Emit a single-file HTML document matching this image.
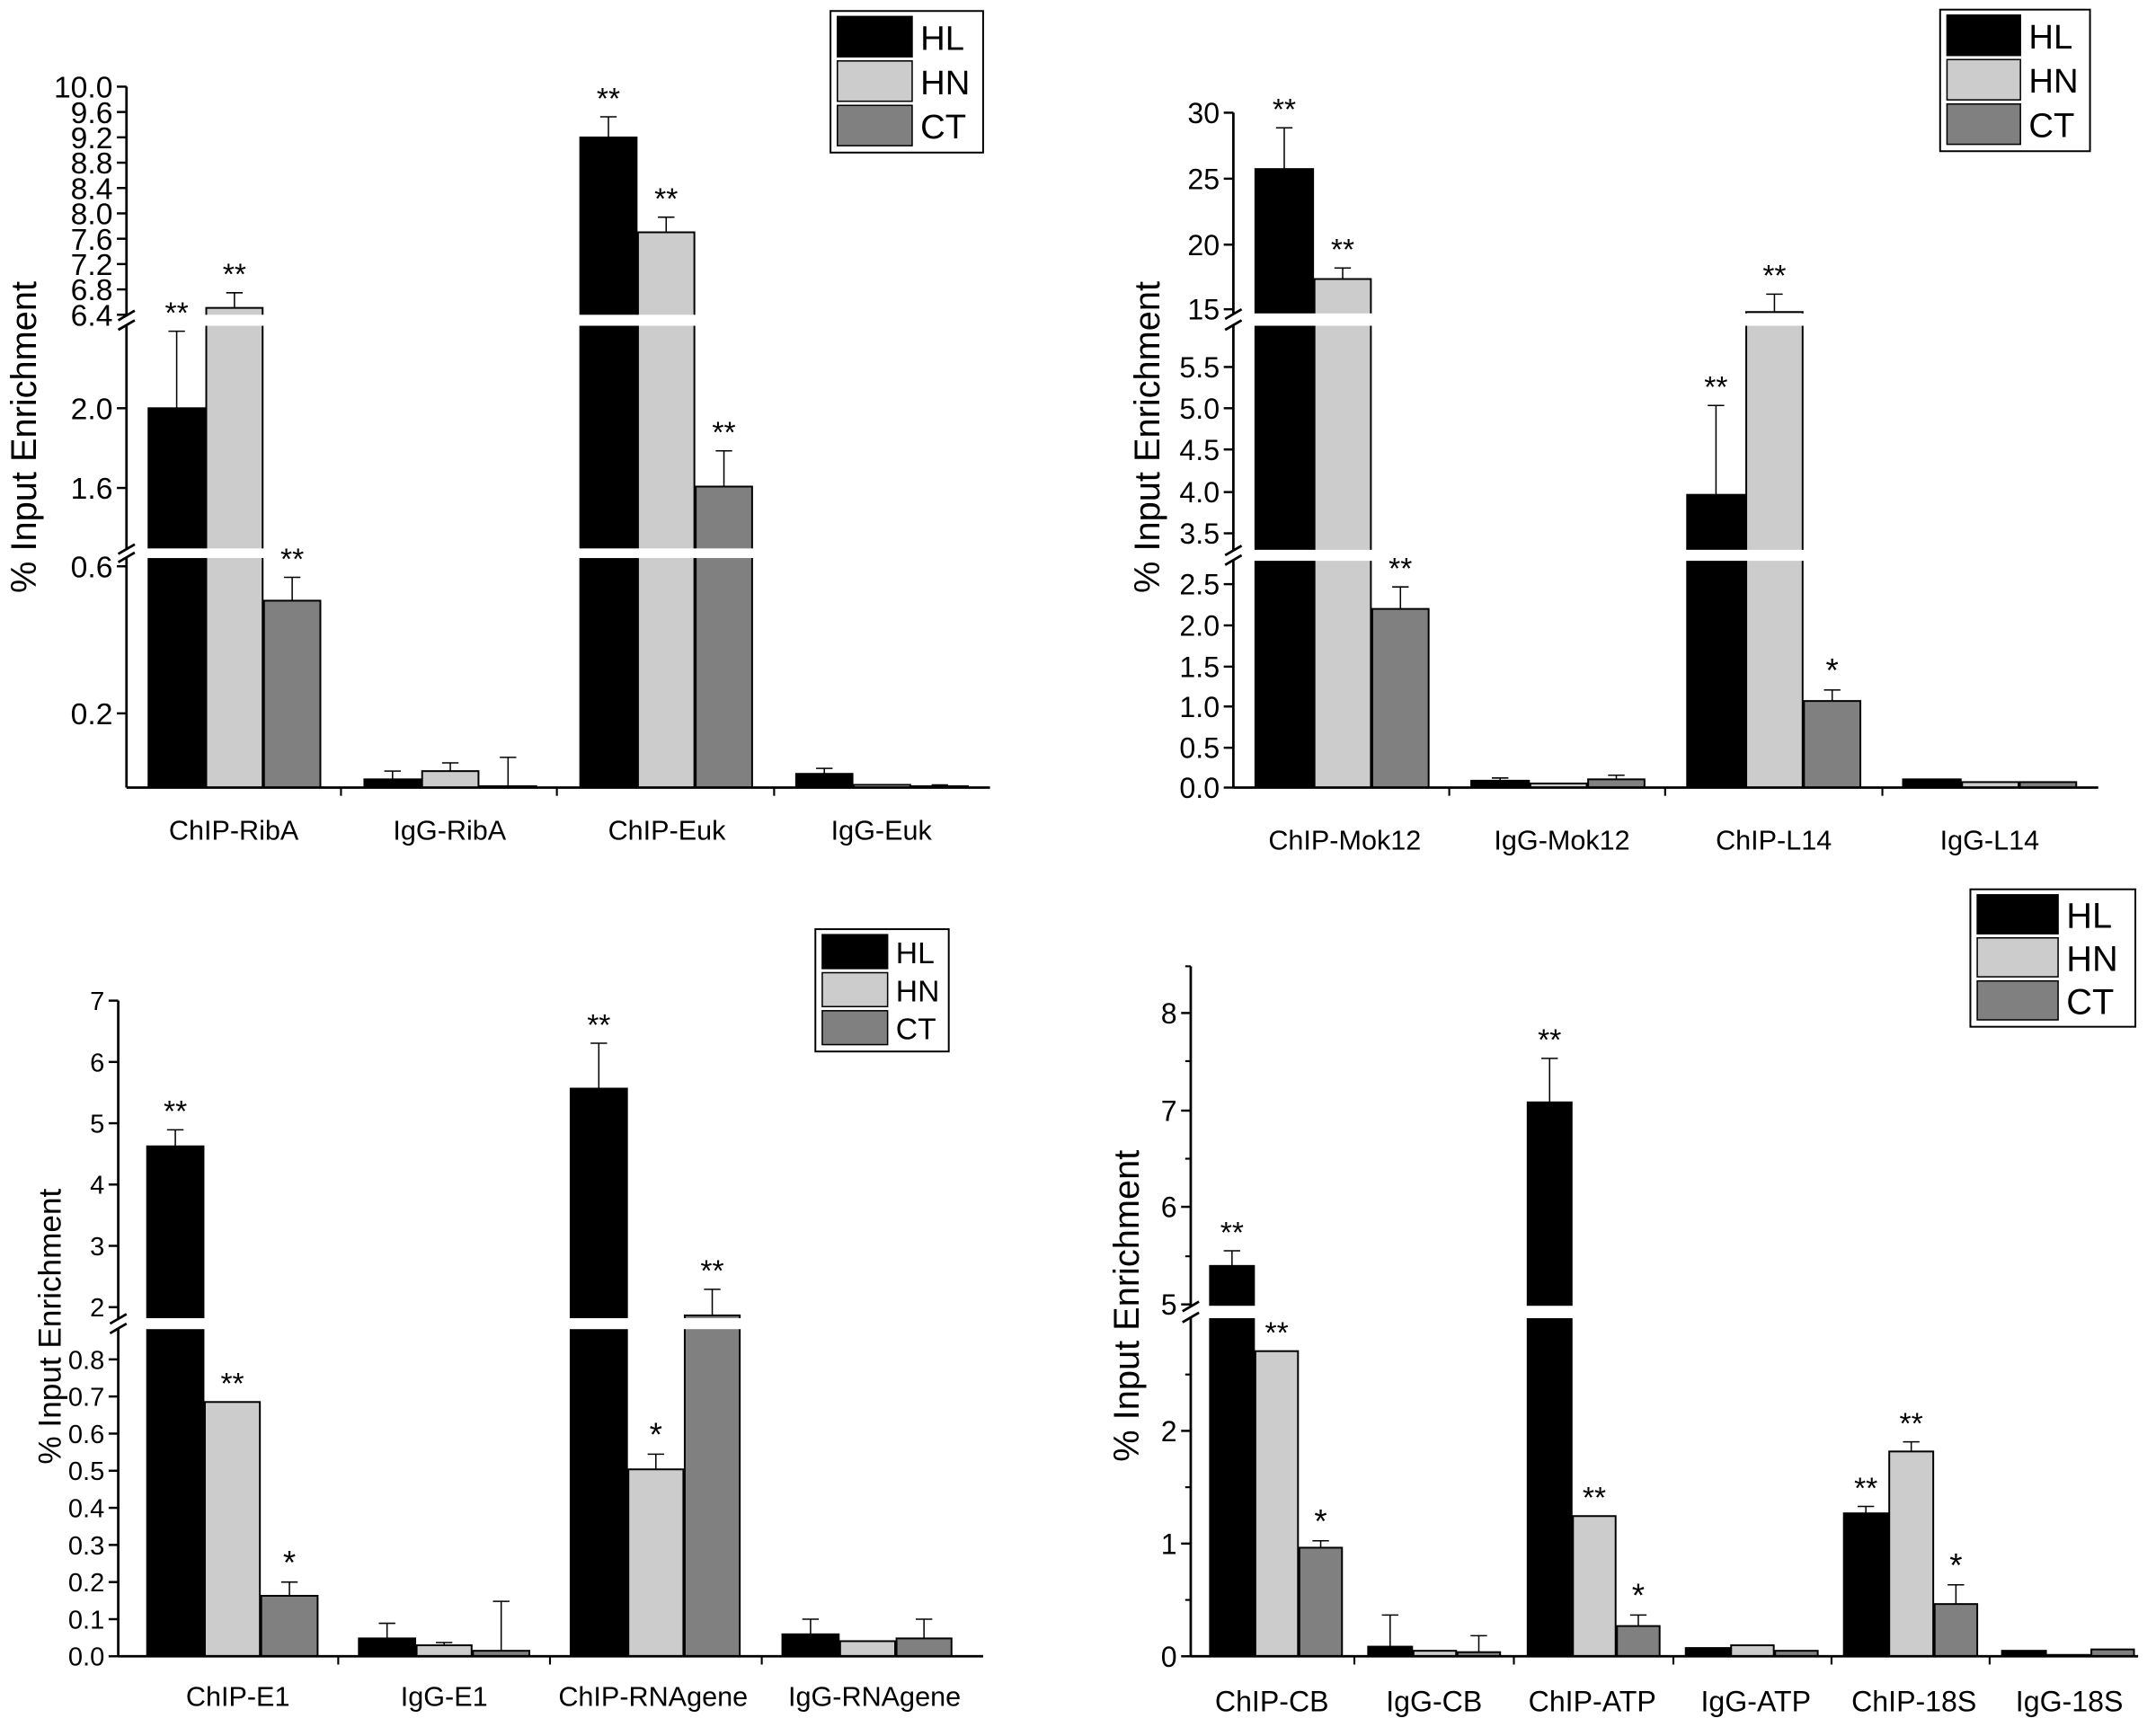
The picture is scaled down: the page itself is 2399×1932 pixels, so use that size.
<!DOCTYPE html>
<html><head><meta charset="utf-8"><style>
html,body{margin:0;padding:0;background:#fff;}
svg{display:block;}
text{font-family:"Liberation Sans",Arial,sans-serif;fill:#000;}
</style></head><body>
<svg id="s" width="2399" height="1932" viewBox="0 0 1568 1263" preserveAspectRatio="none" xmlns="http://www.w3.org/2000/svg"></svg>
<script>
const S=document.getElementById('s');let h='';
const C=['#000','#cccccc','#808080'];
function P(p){
 const {ax,right,bot,top,segs,breaks,bars,labels,ticksX,fs,title,tx,ty,tfs,leg,minor}=p;
 let stars='';
 bars.forEach(b=>{
  const [x,w,t,e,c,st]=b;
  h+=`<rect x="${x}" y="${t}" width="${w}" height="${bot-t}" fill="${C[c]}" stroke="#000" stroke-width="1.3"/>`;
  if(e!==null&&e<t){h+=`<line x1="${x+w/2}" y1="${t}" x2="${x+w/2}" y2="${e}" stroke="#000" stroke-width="1"/><line x1="${x+w/2-6}" y1="${e}" x2="${x+w/2+6}" y2="${e}" stroke="#000" stroke-width="1"/>`;}
  if(st){const yy=(e!==null&&e<t?e:t)-6;stars+=`<text x="${x+w/2}" y="${yy}" font-size="${st==='*'?24:22}" text-anchor="middle">${st}</text>`;}
 });
 breaks.forEach(([a,b])=>{
  h+=`<rect x="${ax+1}" y="${a}" width="${right-ax}" height="${b-a}" fill="#fff"/>`;
  h+=`<rect x="${ax-3}" y="${a+1}" width="6" height="${b-a-2}" fill="#fff"/>`;
  h+=`<line x1="${ax-6}" y1="${a+4}" x2="${ax+6}" y2="${a-3}" stroke="#000" stroke-width="1.8"/><line x1="${ax-6}" y1="${b+3}" x2="${ax+6}" y2="${b-4}" stroke="#000" stroke-width="1.8"/>`;
 });
 h+=stars;
 let pts=[top];breaks.forEach(([a,b])=>{pts.push(a,b)});pts.push(bot);
 for(let i=0;i<pts.length;i+=2)h+=`<line x1="${ax}" y1="${pts[i]}" x2="${ax}" y2="${pts[i+1]}" stroke="#000" stroke-width="1.8"/>`;
 h+=`<line x1="${ax}" y1="${bot}" x2="${right}" y2="${bot}" stroke="#000" stroke-width="1.8"/>`;
 segs.forEach(([y,l])=>{h+=`<line x1="${ax-7}" y1="${y}" x2="${ax}" y2="${y}" stroke="#000" stroke-width="1.6"/>`;
  if(l!=='')h+=`<text x="${ax-10}" y="${y+fs*0.36}" font-size="${fs}" text-anchor="end">${l}</text>`;});
 (minor||[]).forEach(y=>{h+=`<line x1="${ax-4}" y1="${y}" x2="${ax}" y2="${y}" stroke="#000" stroke-width="1.4"/>`;});
 ticksX.forEach(x=>{h+=`<line x1="${x}" y1="${bot}" x2="${x}" y2="${bot+6}" stroke="#000" stroke-width="1.4"/>`;});
 labels.forEach(([x,y,t])=>{h+=`<text x="${x}" y="${y}" font-size="${p.lfs}" text-anchor="middle">${t}</text>`;});
 h+=`<text transform="translate(${tx},${ty}) rotate(-90)" font-size="${tfs}" text-anchor="middle">${title}</text>`;
 const [lx,ly,lw,lh,lf]=leg;h+=`<rect x="${lx}" y="${ly}" width="${lw}" height="${lh}" fill="#fff" stroke="#000" stroke-width="1.3"/>`;
 const rh=(lh-6)/3;['HL','HN','CT'].forEach((n,i)=>{const yy=ly+3+i*rh;
  h+=`<rect x="${lx+5}" y="${yy+1}" width="${lw*0.49}" height="${rh-3}" fill="${C[i]}" stroke="#000" stroke-width="1"/>`;
  h+=`<text x="${lx+lw*0.49+11}" y="${yy+rh/2+lf*0.36}" font-size="${lf}">${n}</text>`;});
}
let s1=[];for(let i=0;i<10;i++)s1.push([229-i*18.44,(6.4+0.4*i).toFixed(1)]);
s1.push([297,'2.0'],[355,'1.6'],[412,'0.6'],[519,'0.2']);
P({ax:92,right:720,bot:573,top:63,segs:s1,breaks:[[229,237],[399,406]],fs:22,lfs:20,
bars:[[108,41,297,241,0,'**'],[150,41,224,213,1,'**'],[192,41,437,420,2,'**'],
[265,41,567,561,0],[307,41,561,555,1],[349,41,572,551,2],
[422,41,100,85,0,'**'],[464,41,169,158,1,'**'],[506,41,354,328,2,'**'],
[579,41,563,559,0],[621,41,571,null,1],[663,41,572,571,2]],
labels:[[170,611,'ChIP-RibA'],[327,611,'IgG-RibA'],[485,611,'ChIP-Euk'],[641,611,'IgG-Euk']],
ticksX:[248,405,563],title:'% Input Enrichment',tx:26,ty:318,tfs:26,leg:[604,8,111,103,25]});
P({ax:897,right:1526,bot:573,top:82,segs:[[225,'15'],[178,'20'],[130,'25'],[82,'30'],[267,'5.5'],[297,'5.0'],[327,'4.5'],[358,'4.0'],[388,'3.5'],[425,'2.5'],[455,'2.0'],[485,'1.5'],[514,'1.0'],[544,'0.5'],[573,'0.0']],
breaks:[[228,237],[400,408]],fs:21,lfs:20,
bars:[[913,42,123,93,0,'**'],[956,41,203,195,1,'**'],[998,41,443,427,2,'**'],
[1070,42,568,566,0],[1113,41,570,null,1],[1155,41,567,564,2],
[1227,42,360,295,0,'**'],[1270,41,227,214,1,'**'],[1312,41,510,502,2,'*'],
[1384,42,567,null,0],[1427,41,569,null,1],[1469,41,569,null,2]],
labels:[[978,618,'ChIP-Mok12'],[1136,618,'IgG-Mok12'],[1290,618,'ChIP-L14'],[1447,618,'IgG-L14']],
ticksX:[1054,1211,1369],title:'% Input Enrichment',tx:843,ty:318,tfs:26,leg:[1411,7,109,103,25]});
let s3=[];for(let i=2;i<=7;i++)s3.push([951-(i-2)*44.6,''+i]);for(let i=0;i<=8;i++)s3.push([1205-i*27,(i/10).toFixed(1)]);
P({ax:86,right:715,bot:1205,top:728,segs:s3,breaks:[[959,967]],fs:19,lfs:20,
bars:[[107,41,834,822,0,'**'],[149,40,1020,null,1,'**'],[190,41,1161,1151,2,'*'],
[261,41,1192,1181,0],[303,40,1197,1195,1],[344,41,1201,1165,2],
[415,41,792,759,0,'**'],[457,40,1069,1058,1,'*'],[498,40,957,938,2,'**'],
[569,41,1189,1178,0],[611,40,1194,null,1],[652,40,1192,1178,2]],
labels:[[173,1241,'ChIP-E1'],[323,1241,'IgG-E1'],[475,1241,'ChIP-RNAgene'],[636,1241,'IgG-RNAgene']],
ticksX:[246,400,554],title:'% Input Enrichment',tx:44,ty:965,tfs:23,leg:[593,676,97,89,22]});
P({ax:866,right:1555,bot:1205,top:703,segs:[[949,'5'],[878,'6'],[808,'7'],[737,'8'],[1205,'0'],[1123,'1'],[1041,'2']],
minor:[914,843,772,703,1164,1082,1000],breaks:[[950,959]],fs:21,lfs:21,
bars:[[880,32,921,910,0,'**'],[913,31,983,null,1,'**'],[945,31,1126,1121,2,'*'],
[995,32,1198,1175,0],[1028,31,1201,null,1],[1060,31,1202,1190,2],
[1111,32,802,770,0,'**'],[1144,31,1103,null,1,'**'],[1176,31,1183,1175,2,'*'],
[1226,32,1199,null,0],[1259,31,1197,null,1],[1291,31,1201,null,2],
[1341,32,1101,1096,0,'**'],[1374,32,1056,1049,1,'**'],[1407,31,1167,1153,2,'*'],
[1456,32,1201,null,0],[1489,31,1204,null,1],[1521,31,1200,null,2]],
labels:[[925,1245,'ChIP-CB'],[1043,1245,'IgG-CB'],[1158,1245,'ChIP-ATP'],[1277,1245,'IgG-ATP'],[1392,1245,'ChIP-18S'],[1505,1245,'IgG-18S']],
ticksX:[985,1101,1217,1332,1447],title:'% Input Enrichment',tx:828,ty:950,tfs:26,leg:[1433,647,120,100,26]});
S.innerHTML=h;
</script>
</body></html>
